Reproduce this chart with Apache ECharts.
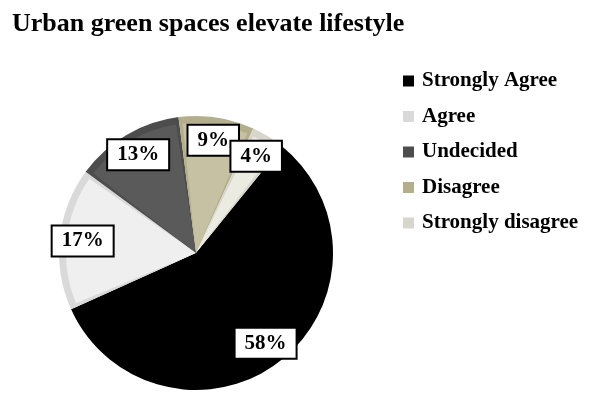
<!DOCTYPE html>
<html>
<head>
<meta charset="utf-8">
<script src="https://cdn.jsdelivr.net/npm/echarts@6/dist/echarts.min.js"></script>
<style>
  html, body { margin: 0; padding: 0; background: #fff; }
  #chart { width: 592px; height: 408px; }
</style>
</head>
<body>
<div id="chart"></div>
<script>
const categories = ['Strongly Agree', 'Agree', 'Undecided', 'Disagree', 'Strongly disagree']
const shares = [58, 17, 13, 9, 4]
const fillColors = ['#000000', '#efefef', '#5a5a5a', '#c6c1a2', '#ecebe2']
const edgeColors = ['#000000', '#d9d9d9', '#4d4d4d', '#b3ae8c', '#d8d5cc']

const FONT = "'Liberation Serif', 'DejaVu Serif', serif"
const makeData = colors => categories.map((name, i) => ({ name, value: shares[i], itemStyle: { color: colors[i] } }))
const center = [196, 253]
const R = 137

const chart = echarts.init(document.getElementById('chart'))
chart.setOption({
  animation: false,
  title: {
    text: 'Urban green spaces elevate lifestyle',
    left: 12, top: 11, padding: 0,
    textStyle: { fontFamily: FONT, fontSize: 26, fontWeight: 'bold', color: '#000' }
  },
  legend: {
    orient: 'vertical', left: 403, top: 70, padding: 0,
    itemWidth: 11, itemHeight: 11, itemGap: 13.5,
    icon: 'rect',
    data: categories,
    itemStyle: { borderWidth: 0 },
    textStyle: { fontFamily: FONT, fontSize: 21, fontWeight: 'bold', color: '#000', lineHeight: 22, padding: [0, 0, 0, 3] }
  },
  series: [
    // bevel layer
    {
      type: 'pie', center, radius: [0, R], startAngle: 51, clockwise: true,
      silent: true, z: 1,
      label: { show: false }, labelLine: { show: false },
      data: makeData(edgeColors)
    },
    // face layer
    {
      type: 'pie', center, radius: [0, R - 7], startAngle: 51, clockwise: true,
      padAngle: 3,
      silent: true, z: 2,
      label: { show: false }, labelLine: { show: false },
      data: makeData(fillColors)
    },
    // labels
    {
      type: 'pie', center, radius: [R * 0.62, R], startAngle: 51, clockwise: true,
      silent: true, z: 3,
      avoidLabelOverlap: false,
      labelLayout: { hideOverlap: false },
      label: {
        show: true, position: 'inside', formatter: '{c}%',
        fontFamily: FONT, fontSize: 21, fontWeight: 'bold', color: '#000',
        backgroundColor: '#fff', borderColor: '#000', borderWidth: 2,
        padding: [4, 9, 3, 9], lineHeight: 22
      },
      labelLine: { show: false },
      data: categories.map((name, i) => ({ name, value: shares[i], itemStyle: { color: 'rgba(0,0,0,0)' } }))
    }
  ]
})
</script>
</body>
</html>
